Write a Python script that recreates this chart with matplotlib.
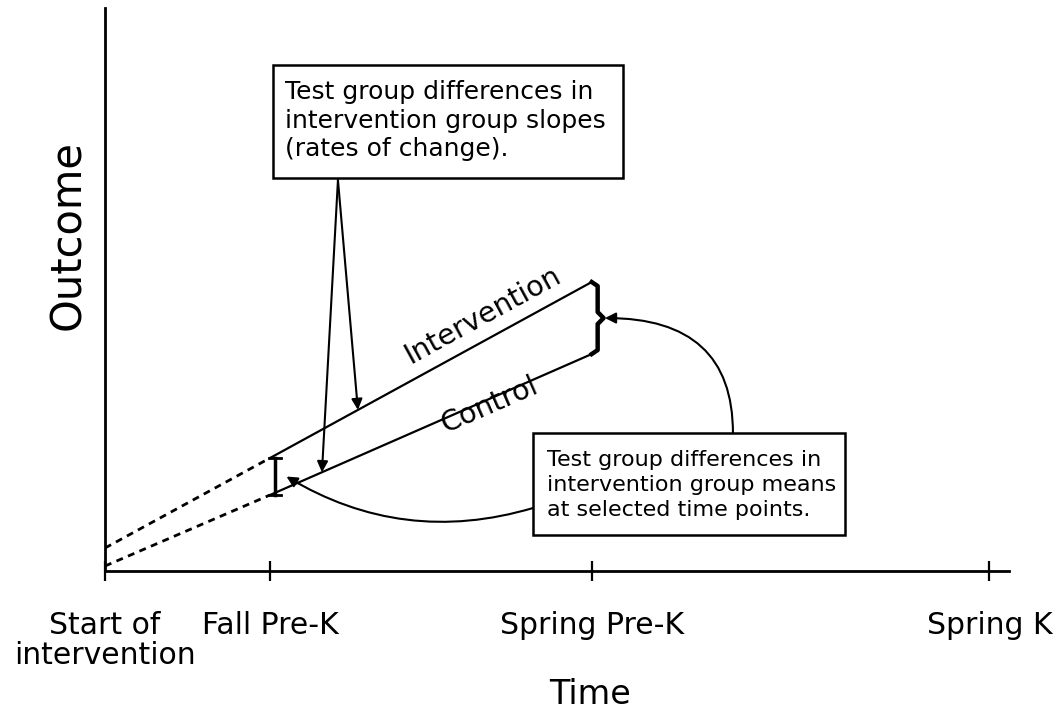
import numpy as np
import matplotlib
matplotlib.use("Agg")
import matplotlib.pyplot as plt
from matplotlib.patches import Rectangle

# time points (x in units of "start -> fall" spacing)
time_pos = [0, 1, 2.95, 5.36]
time_labels = ["Start of\nintervention", "Fall Pre-K", "Spring Pre-K", "Spring K"]

# outcome at start, fall pre-k, spring pre-k
t_pts = [0, 1, 2.95]
interv = [0.23, 1.13, 2.89]
control = [0.05, 0.76, 2.17]

box1_text = "Test group differences in\nintervention group slopes\n(rates of change)."
box2_text = "Test group differences in\nintervention group means\nat selected time points."

plt.rcParams["font.family"] = "DejaVu Sans"

fig = plt.figure(figsize=(10.55, 7.19), dpi=100)
ax = fig.add_axes([0.0995, 0.2058, 0.8569, 0.783])
ax.set_xlim(0, 5.479)
ax.set_ylim(0, 5.63)

for s in ["top", "right"]:
    ax.spines[s].set_visible(False)
ax.spines["left"].set_linewidth(2)
ax.spines["bottom"].set_linewidth(2)
ax.set_yticks([])
ax.set_xticks(time_pos, time_labels)
ax.tick_params(axis="x", direction="inout", length=14, width=1.6, labelsize=21.5, pad=22)
for lab in ax.get_xticklabels():
    lab.set_linespacing(1.05)

# dashed extrapolation back to start, solid between observed points
ls = (0, (2.5, 2))
ax.plot(t_pts[:2], interv[:2], color="black", lw=2, ls=ls)
ax.plot(t_pts[:2], control[:2], color="black", lw=2, ls=ls)
ax.plot(t_pts[1:], interv[1:], color="black", lw=1.6)
ax.plot(t_pts[1:], control[1:], color="black", lw=1.6)

# line labels
ax.text(2.29, 2.56, "Intervention", fontsize=20.5, rotation=28.7,
        ha="center", va="center", rotation_mode="anchor")
ax.text(2.33, 1.66, "Control", fontsize=20.5, rotation=23.6,
        ha="center", va="center", rotation_mode="anchor")

# brace at fall pre-k
fx = t_pts[1] + 0.03
ax.plot([fx - 0.035, fx + 0.035], [interv[1], interv[1]], color="black", lw=2)
ax.plot([fx, fx], [interv[1], control[1]], color="black", lw=2.5)
ax.plot([fx - 0.035, fx + 0.035], [control[1], control[1]], color="black", lw=2)
fmid = (interv[1] + control[1]) / 2

# curly brace at spring pre-k
sx = t_pts[2]
smid = (interv[2] + control[2]) / 2
ax.plot([sx, sx + 0.036, sx + 0.036, sx + 0.072, sx + 0.036, sx + 0.036, sx],
        [interv[2], interv[2] - 0.04, smid + 0.06, smid, smid - 0.06,
         control[2] + 0.04, control[2]], color="black", lw=3.2, solid_joinstyle="round")

# box 1 (slopes)
ax.add_patch(Rectangle((1.018, 3.93), 2.121, 1.13, fill=False, lw=1.8, ec="black"))
ax.text(1.09, 4.505, box1_text, fontsize=18, ha="left", va="center", linespacing=1.22)

# box 2 (means)
ax.add_patch(Rectangle((2.594, 0.36), 1.891, 1.02, fill=False, lw=1.8, ec="black", zorder=3))
ax.text(2.68, 0.86, box2_text, fontsize=16.0, ha="left", va="center", linespacing=1.33)

arrow = dict(arrowstyle="-|>", color="black", lw=1.5, mutation_scale=16,
             shrinkA=0, shrinkB=0)

# arrows from box 1 onto both lines
src = (1.412, 3.91)
ta = 1.533
ax.annotate("", xy=(ta, np.interp(ta, t_pts, interv)), xytext=src, arrowprops=arrow)
tb = 1.315
ax.annotate("", xy=(tb, np.interp(tb, t_pts, control)), xytext=src, arrowprops=arrow)

# curved arrows from box 2 to the braces
ax.annotate("", xy=(fx + 0.07, fmid), xytext=(2.594, 0.63),
            arrowprops=dict(arrow, connectionstyle="arc3,rad=-0.22"))
ax.annotate("", xy=(sx + 0.08, smid), xytext=(3.806, 1.38),
            arrowprops=dict(arrow, connectionstyle="angle3,angleA=90,angleB=0"))

fig.text(68 / 1055, 1 - 235 / 719, "Outcome", fontsize=30, rotation=90,
         ha="center", va="center")
fig.text(590 / 1055, 1 - 695 / 719, "Time", fontsize=24, ha="center", va="center")

fig.savefig("out.png", dpi=100)
